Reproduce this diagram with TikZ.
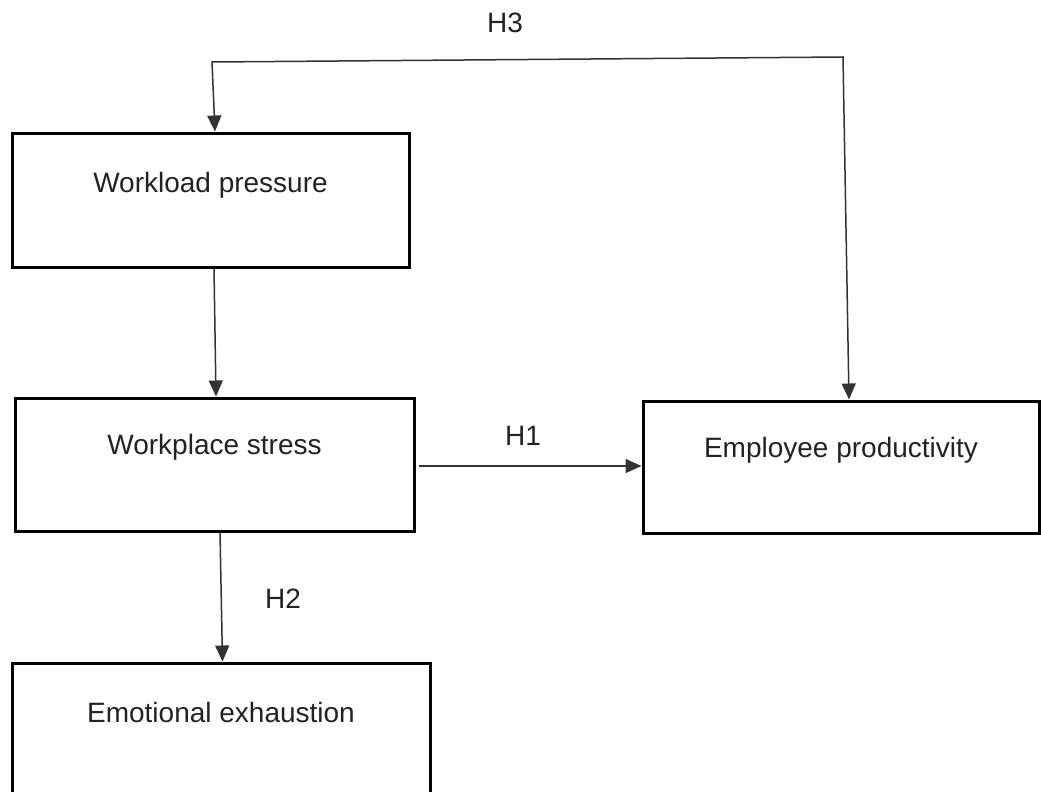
\documentclass[tikz,border=0pt]{standalone}
\usepackage{fontspec}
\setmainfont{Liberation Sans}
\usetikzlibrary{arrows.meta,calc}
\definecolor{txt}{HTML}{222222}
\definecolor{ln}{HTML}{333333}
\begin{document}
\begin{tikzpicture}[x=1pt,y=-1pt,
  box/.style={draw=black, line width=3pt, rectangle, inner sep=0pt},
  lbl/.style={text=txt, inner sep=0pt, font=\fontsize{28}{32}\selectfont},
  tip/.style={Triangle[length=16pt,width=14pt,fill=black]},
  arr/.style={draw=ln, line width=1.5pt, -{Triangle[length=16pt,width=14pt]}},
  arrb/.style={draw=ln, line width=1.5pt, {Triangle[length=16pt,width=14pt]}-{Triangle[length=16pt,width=14pt]}}]
\useasboundingbox (0,0) rectangle (1041,792);
\clip (0,0) rectangle (1041,792);
\fill[white] (0,0) rectangle (1041,792);
% boxes
\node[box, minimum width=397pt, minimum height=134pt] (wp) at (210.5,200) {};
\node[box, minimum width=399pt, minimum height=133pt] (ws) at (214.5,464.5) {};
\node[box, minimum width=396pt, minimum height=132pt] (ep) at (841,467) {};
\node[box, minimum width=418pt, minimum height=134pt] (ee) at (221,730) {};
% texts
\node[lbl] (wpt) at ($(wp.north)+(0,54)$) {Workload pressure};
\node[lbl] (wst) at ($(ws.north)+(0,51)$) {Workplace stress};
\node[lbl] (ept) at ($(ep.north)+(0,51)$) {Employee productivity};
\node[lbl] (eet) at ($(ee.north)+(0,51)$) {Emotional exhaustion};
% labels
\node[lbl] (h3) at (505,23) {H3};
\node[lbl] (h1) at (523,436) {H1};
\node[lbl] (h2) at (283,599) {H2};
% connectors
\coordinate (h3l) at (212,62);
\coordinate (h3r) at (843,57);
\draw[arrb] ($(wp.north)+(4.5,0)$) -- (h3l) -- (h3r) -- ($(ep.north)+(8,0)$);
\draw[arr] ($(wp.south)+(3.5,0)$) -- ($(ws.north)+(1.5,0)$);
\draw[arr] ($(ws.east)+(3,1.5)$) -- ($(ep.west)+(0,-1)$);
\draw[arr] ($(ws.south)+(5.5,0)$) -- ($(ee.north)+(1.5,0)$);
\end{tikzpicture}
\end{document}
